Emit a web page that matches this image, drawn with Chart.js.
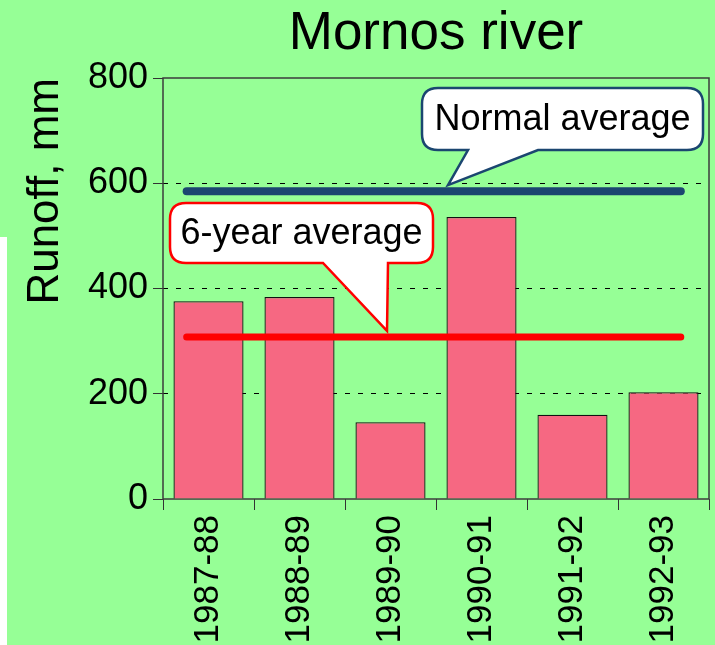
<!DOCTYPE html>
<html>
<head>
<meta charset="utf-8">
<script src="https://cdn.jsdelivr.net/npm/chart.js@4"></script>
<style>
    html, body { margin: 0; padding: 0; background: #96ff96; }
    #strip { position: absolute; left: 0; top: 237px; width: 7px; height: 408px; background: #fff; }
    #wrap { position: absolute; left: 0; top: 0; width: 715px; height: 645px; }
</style>
</head>
<body>
<div id="strip"></div>
<div id="wrap"><canvas id="graficoRunoff" width="715" height="645"></canvas></div>
<script>
const years = ["1987-88", "1988-89", "1989-90", "1990-91", "1991-92", "1992-93"];
const runoff = [376, 384, 146, 536, 160, 203];
const normalAverage = 585;
const sixYearAverage = 308;
const averageSpan = [0.26, 5.69]; // where the average lines start and end, in category units
const yTicks = [0, 200, 400, 600, 800];

const fonte = "'Liberation Sans', Arial, sans-serif";

function balao(ctx, b, tipX, tipY, cor, texto) {
    const r = 16;
    ctx.save();
    ctx.beginPath();
    ctx.moveTo(b.left + r, b.top);
    ctx.lineTo(b.right - r, b.top);
    ctx.quadraticCurveTo(b.right, b.top, b.right, b.top + r);
    ctx.lineTo(b.right, b.bottom - r);
    ctx.quadraticCurveTo(b.right, b.bottom, b.right - r, b.bottom);
    ctx.lineTo(b.tail2, b.bottom);
    ctx.lineTo(tipX, tipY);
    ctx.lineTo(b.tail1, b.bottom);
    ctx.lineTo(b.left + r, b.bottom);
    ctx.quadraticCurveTo(b.left, b.bottom, b.left, b.bottom - r);
    ctx.lineTo(b.left, b.top + r);
    ctx.quadraticCurveTo(b.left, b.top, b.left + r, b.top);
    ctx.closePath();
    ctx.fillStyle = "#fff";
    ctx.fill();
    ctx.lineWidth = 2.5;
    ctx.strokeStyle = cor;
    ctx.stroke();
    ctx.fillStyle = "#000";
    ctx.font = "36px " + fonte;
    ctx.textAlign = "center";
    ctx.textBaseline = "middle";
    ctx.fillText(texto, (b.left + b.right) / 2, (b.top + b.bottom) / 2 + 1);
    ctx.restore();
}

const decoracao = {
    id: "decoracao",
    beforeDatasetsDraw(chart) {
        const a = chart.chartArea;
        const ctx = chart.ctx;
        ctx.save();
        ctx.strokeStyle = "#3c3c3c";
        ctx.lineWidth = 1.5;
        ctx.strokeRect(a.left, a.top, a.right - a.left, a.bottom - a.top);
        ctx.restore();
    },
    afterDatasetsDraw(chart) {
        const y = chart.scales.y;
        const ctx = chart.ctx;
        balao(ctx, { left: 422, right: 703, top: 88, bottom: 150, tail1: 468, tail2: 538 },
            448, y.getPixelForValue(normalAverage) - 6, "#1b4670", "Normal average");
        balao(ctx, { left: 170, right: 433, top: 203, bottom: 263, tail1: 323, tail2: 388 },
            387, y.getPixelForValue(sixYearAverage) - 6, "#ff0000", "6-year average");
    }
};

const grafico = new Chart(document.getElementById("graficoRunoff"), {
    type: "bar",
    data: {
        labels: years,
        datasets: [{
            label: "Runoff",
            data: runoff,
            backgroundColor: "#f66882",
            borderColor: "#111",
            borderWidth: 1.3,
            grouped: false,
            barPercentage: 0.77,
            categoryPercentage: 1,
            order: 2
        }, {
            type: "line",
            label: "Normal average",
            data: averageSpan.map(x => ({ x: x, y: normalAverage })),
            xAxisID: "xLine",
            borderColor: "#1b4670",
            borderWidth: 8,
            borderCapStyle: "round",
            pointRadius: 0,
            order: 1
        }, {
            type: "line",
            label: "6-year average",
            data: averageSpan.map(x => ({ x: x, y: sixYearAverage })),
            xAxisID: "xLine",
            borderColor: "#ff0000",
            borderWidth: 7,
            borderCapStyle: "round",
            pointRadius: 0,
            order: 1
        }]
    },
    options: {
        responsive: false,
        animation: false,
        layout: { padding: { right: 6 } },
        plugins: {
            legend: { display: false },
            tooltip: { enabled: false },
            title: {
                display: true,
                text: "Mornos river",
                fullSize: false,
                color: "#000",
                font: { family: fonte, size: 53, weight: "normal", lineHeight: 1.2 },
                padding: { top: 3, bottom: 11.4 }
            }
        },
        scales: {
            x: {
                grid: { drawOnChartArea: false, drawTicks: true, tickLength: 11, tickColor: "#333", offset: true },
                border: { display: false },
                ticks: {
                    color: "#000",
                    padding: 5,
                    minRotation: 90,
                    maxRotation: 90,
                    font: { family: fonte, size: 35 }
                },
                afterFit(scale) { scale.height = 146; }
            },
            xLine: {
                type: "linear",
                display: false,
                offset: false,
                min: 0,
                max: years.length
            },
            y: {
                min: 0,
                max: 800,
                afterBuildTicks(scale) { scale.ticks = yTicks.map(v => ({ value: v })); },
                grid: {
                    color: ctx => (ctx.tick && (ctx.tick.value === 0 || ctx.tick.value === 800)) ? "rgba(0,0,0,0)" : "#000",
                    lineWidth: 1,
                    tickColor: "#333",
                    tickLength: 10,
                    tickBorderDash: []
                },
                border: { display: false, dash: [5, 8] },
                ticks: {
                    color: "#000",
                    padding: 5,
                    font: { family: fonte, size: 36 }
                },
                title: {
                    display: true,
                    text: "Runoff, mm",
                    align: "end",
                    color: "#000",
                    font: { family: fonte, size: 44, lineHeight: 1.2 },
                    padding: { top: 19, bottom: 0 }
                },
                afterFit(scale) { scale.width = 163; }
            }
        }
    },
    plugins: [decoracao]
});
</script>
</body>
</html>
